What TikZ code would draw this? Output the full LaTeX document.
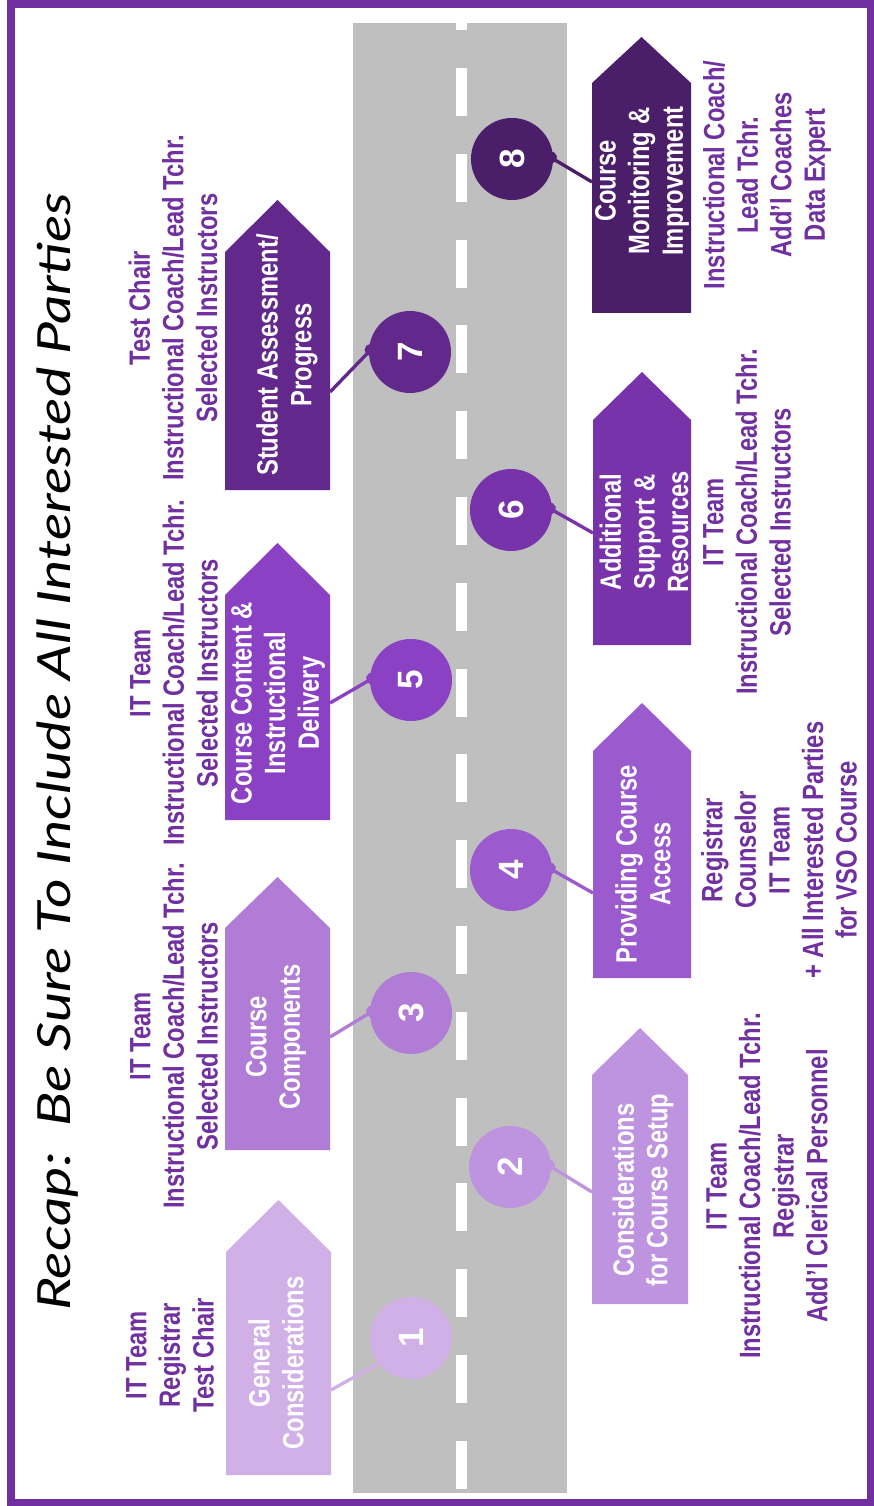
\documentclass[tikz,border=0pt]{standalone}
\usepackage{fontspec}
\setmainfont{Liberation Sans}
\newfontfamily\labelfont[FakeStretch=0.81]{Liberation Sans Bold}
\newfontfamily\numfont{Liberation Sans Bold}
\newfontfamily\titlefont[FakeStretch=1.25]{Lato}
\usetikzlibrary{arrows.meta}

\definecolor{frame}{HTML}{7030A0}
\definecolor{road}{HTML}{BFBFBF}
\definecolor{stepA}{HTML}{D0B0E6}
\definecolor{stepB}{HTML}{BE94E0}
\definecolor{stepC}{HTML}{B07CD6}
\definecolor{stepD}{HTML}{9B5ACD}
\definecolor{stepE}{HTML}{8A41C3}
\definecolor{stepF}{HTML}{7832AA}
\definecolor{stepG}{HTML}{62288C}
\definecolor{stepH}{HTML}{4B1E69}

\newcommand*{\roadL}{353}
\newcommand*{\roadR}{567}
\newcommand*{\roadT}{23}
\newcommand*{\roadB}{1493}

\begin{document}
\begin{tikzpicture}
[
	x=0.02cm,
	y=-0.02cm,
	num/.style={circle,fill=#1,inner sep=0pt,minimum size=1.64cm,text=white,font=\numfont\fontsize{20}{20}\selectfont},
	signtext/.style={text=white,align=center,rotate=90,font=\labelfont\fontsize{16.7}{19.1}\selectfont},
	who/.style={text=frame,align=center,rotate=90,font=\labelfont\fontsize{16.7}{19.1}\selectfont},
	link/.style={{Circle[length=6.8pt,width=6.8pt]}-,line width=1.9pt,draw=#1,shorten <=-5pt}
]

	\useasboundingbox (0,0) rectangle (873,1506);

	% frame
	\draw[frame,line width=4pt] (11,4) rectangle (870,1502);

	% title
	\node[rotate=90,anchor=base,font=\titlefont\itshape\fontsize{26}{26}\selectfont] (title) at (70,752)
		{Recap:\ \ Be Sure To Include All Interested Parties};

	% road
	\fill[road] (\roadL,\roadT) rectangle (\roadR,\roadB);
	\begin{scope}
		\clip (\roadL,\roadT) rectangle (\roadR,\roadB);
		\foreach \k in {-1,...,16}
			\fill[white] (456,{68+85.8*\k}) rectangle ++(11,48);
	\end{scope}

	% signs
	\foreach \xl/\xr/\yt/\ys/\yb/\col in {226/331/1200/1252/1475/stepA, 592/688/1028/1075/1304/stepB,
		225/330/877/928/1150/stepC, 593/691/703/751/978/stepD, 225/330/543/595/820/stepE,
		593/691/372/420/645/stepF, 225/330/200/252/490/stepG, 592/691/37/83/313/stepH}
		\fill[\col] (\xl,\yb) -- (\xl,\ys) -- ({(\xl+\xr)/2},\yt) -- (\xr,\ys) -- (\xr,\yb) -- cycle;

	\node[signtext] (t1) at (276,1363) {General\\Considerations};
	\node[signtext] (t2) at (643,1190) {Considerations\\for Course Setup};
	\node[signtext] (t3) at (276,1037) {Course\\Components};
	\node[signtext] (t4) at (643,864) {Providing Course\\Access};
	\node[signtext] (t5) at (278,703) {Course Content \&\\Instructional\\Delivery};
	\node[signtext] (t6) at (644,532) {Additional\\Support \&\\Resources};
	\node[signtext] (t7) at (287,355) {Student Assessment/\\Progress};
	\node[signtext] (t8) at (642,181) {Course\\Monitoring \&\\Improvement};

	% stops on the road
	\node[num=stepA] (n1) at (411,1338) {\rotatebox{90}{1}};
	\node[num=stepB] (n2) at (510,1167) {\rotatebox{90}{2}};
	\node[num=stepC] (n3) at (411,1013) {\rotatebox{90}{3}};
	\node[num=stepD] (n4) at (511,870) {\rotatebox{90}{4}};
	\node[num=stepE] (n5) at (411,680) {\rotatebox{90}{5}};
	\node[num=stepF] (n6) at (511,510) {\rotatebox{90}{6}};
	\node[num=stepG] (n7) at (410,352) {\rotatebox{90}{7}};
	\node[num=stepH] (n8) at (512,159) {\rotatebox{90}{8}};

	\coordinate (c1) at (331,1390);
	\coordinate (c2) at (592,1192);
	\coordinate (c3) at (330,1037);
	\coordinate (c4) at (593,893);
	\coordinate (c5) at (330,703);
	\coordinate (c6) at (593,533);
	\coordinate (c7) at (330,392);
	\coordinate (c8) at (592,182);

	\draw[link=stepA,shorten <=-8pt] (n1.218) -- (c1);
	\draw[link=stepB] (n2.east) -- (c2);
	\draw[link=stepC] (n3.west) -- (c3);
	\draw[link=stepD] (n4.east) -- (c4);
	\draw[link=stepE] (n5.west) -- (c5);
	\draw[link=stepF] (n6.east) -- (c6);
	\draw[link=stepG] (n7.west) -- (c7);
	\draw[link=stepH] (n8.east) -- (c8);

	% who is involved
	\node[who] (w1) at (170,1355) {IT Team\\Registrar\\Test Chair};
	\node[who] (w3) at (174,1036) {IT Team\\Instructional Coach/Lead Tchr.\\Selected Instructors};
	\node[who] (w5) at (174,673) {IT Team\\Instructional Coach/Lead Tchr.\\Selected Instructors};
	\node[who] (w7) at (173,308) {Test Chair\\Instructional Coach/Lead Tchr.\\Selected Instructors};
	\node[who] (w2) at (767,1186) {IT Team\\Instructional Coach/Lead Tchr.\\Registrar\\Add’l Clerical Personnel};
	\node[who] (w4) at (779,850) {Registrar\\Counselor\\IT Team\\+ All Interested Parties\\for VSO Course};
	\node[who] (w6) at (747,522) {IT Team\\Instructional Coach/Lead Tchr.\\Selected Instructors};
	\node[who] (w8) at (767,175) {Instructional Coach/\\Lead Tchr.\\Add’l Coaches\\Data Expert};

\end{tikzpicture}
\end{document}
